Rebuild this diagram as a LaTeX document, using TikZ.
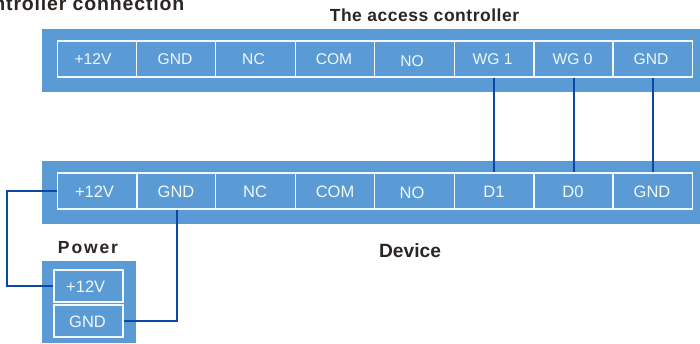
\documentclass[tikz,border=0pt]{standalone}
\usepackage{fontspec}
\setmainfont{Liberation Sans}
\newfontfamily\titlefont[LetterSpace=3]{Liberation Sans Bold}
\newfontfamily\cutfont[LetterSpace=4.3]{Liberation Sans Bold}
\newfontfamily\powerfont[LetterSpace=10.7]{Liberation Sans Bold}
\definecolor{band}{HTML}{5B9BD5}
\definecolor{wire}{HTML}{0D47A5}
\definecolor{ink}{HTML}{2B2523}
\tikzset{
  bandbox/.style={fill=band,draw=none},
  cellbox/.style={draw=white!92!band,line width=1.3pt,fill=band,inner sep=0pt,minimum width=79.4pt,minimum height=36pt},
  powerbox/.style={cellbox,minimum width=69pt,minimum height=32pt},
  celltext/.style={text=white!92!band,inner sep=0pt,font=\fontsize{15.6}{16}\selectfont},
  celltextb/.style={celltext,font=\fontsize{16.5}{17}\selectfont},
  wireline/.style={draw=wire,line width=1.4pt},
  heading/.style={text=ink,inner sep=0pt},
}
\newcommand{\celllabel}[4]{\node[celltext] (#1) at (#2,#3) {#4};}
\newcommand{\celllabelb}[4]{\node[celltextb] (#1) at (#2,#3) {#4};}
\begin{document}
\begin{tikzpicture}[x=1pt,y=-1pt]
\useasboundingbox (0,0) rectangle (700,343);
\fill[bandbox] (42,29) rectangle (700,92);
\fill[bandbox] (42,161) rectangle (700,224);
\fill[bandbox] (42,261) rectangle (136,343);
% top row
\node[cellbox] (t1) at (97,59) {};
\node[cellbox] (t2) at (176.5,59) {};
\node[cellbox] (t3) at (255.5,59) {};
\node[cellbox] (t4) at (335,59) {};
\node[cellbox] (t5) at (414.5,59) {};
\node[cellbox] (t6) at (494,59) {};
\node[cellbox] (t7) at (573.9,59) {};
\node[cellbox] (t8) at (652.8,59) {};
% bottom row
\node[cellbox] (b1) at (97,191) {};
\node[cellbox] (b2) at (176.9,191) {};
\node[cellbox] (b3) at (255.5,191) {};
\node[cellbox] (b4) at (335,191) {};
\node[cellbox] (b5) at (414.5,191) {};
\node[cellbox] (b6) at (494,191) {};
\node[cellbox] (b7) at (573.9,191) {};
\node[cellbox] (b8) at (652.8,191) {};
% power
\node[powerbox] (p1) at (88.5,286) {};
\node[powerbox] (p2) at (88.5,321) {};
% labels
\celllabel{lt1}{93}{59.5}{+12V}
\celllabel{lt2}{175}{59.5}{GND}
\celllabel{lt3}{253.5}{59.5}{NC}
\celllabel{lt4}{334}{59.5}{COM}
\celllabel{lt5}{412}{61}{NO}
\celllabel{lt6}{492.5}{59.5}{WG 1}
\celllabel{lt7}{572.5}{59.5}{WG 0}
\celllabel{lt8}{651}{59.5}{GND}
\celllabelb{lb1}{94.5}{191.5}{+12V}
\celllabelb{lb2}{176}{191.5}{GND}
\celllabelb{lb3}{255}{191.5}{NC}
\celllabelb{lb4}{335}{191.5}{COM}
\celllabelb{lb5}{412}{193}{NO}
\celllabelb{lb6}{494}{191.5}{D1}
\celllabelb{lb7}{573}{191.5}{D0}
\celllabelb{lb8}{652}{191.5}{GND}
\celllabelb{lp1}{85.7}{286.5}{+12V}
\celllabelb{lp2}{87.5}{322}{GND}
% headings
\node[heading,anchor=base east,font=\cutfont\fontsize{19.5}{20}\selectfont] (h0) at (184.5,10) {ntroller connection};
\node[heading,anchor=base,font=\titlefont\fontsize{17.5}{18}\selectfont] (h1) at (424.5,21) {The access controller};
\node[heading,anchor=base,font=\bfseries\fontsize{19.2}{20}\selectfont] (h2) at (410,257) {Device};
\node[heading,anchor=base,font=\powerfont\fontsize{17.5}{18}\selectfont] (h3) at (88,253) {Power};
% wires
\coordinate (lw) at (7,240);
\draw[wireline] (t6.south) -- (b6.north);
\draw[wireline] (t7.south) -- (b7.north);
\draw[wireline] (t8.south) -- (b8.north);
\draw[wireline] (b1.west) -- (lw |- b1.west) -- (lw |- p1.west) -- (p1.west);
\draw[wireline] (p2.east) -| (b2.south);
\end{tikzpicture}
\end{document}
